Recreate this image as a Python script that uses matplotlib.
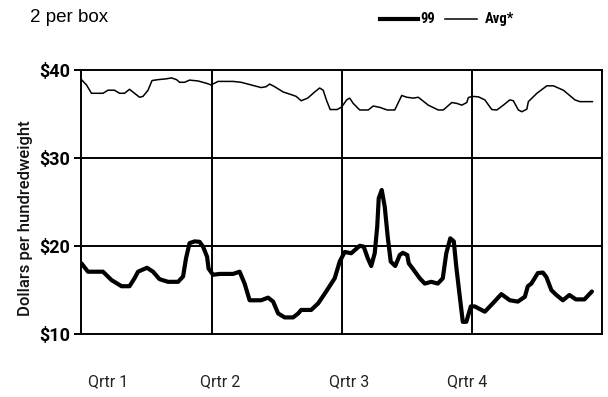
import matplotlib
matplotlib.use("Agg")
import matplotlib.pyplot as plt
from matplotlib.lines import Line2D
from matplotlib import font_manager as fm

# weekly position (0-52) and price
avg_weeks = [0.0, 0.5, 1.0, 2.15, 2.65, 3.3, 3.8, 4.3, 4.8, 5.3, 5.8, 6.15, 6.65, 7.05,
             7.65, 8.5, 9.0, 9.5, 9.8, 10.3, 10.8, 11.65, 12.45, 12.95, 13.65, 15.15,
             15.95, 17.95, 18.45, 18.8, 19.3, 20.15, 20.95, 21.45, 21.95, 22.6, 23.3,
             23.8, 24.15, 24.5, 24.85, 25.55, 26.0, 26.5, 26.8, 27.15, 27.8, 28.65,
             29.15, 29.8, 30.55, 31.3, 32.0, 32.5, 33.15, 33.65, 34.65, 35.65, 36.15,
             37.0, 37.5, 38.0, 38.5, 38.65, 39.0, 39.65, 40.3, 41.0, 41.5, 42.15, 42.8,
             43.15, 43.65, 44.0, 44.5, 44.65, 45.5, 46.5, 47.15, 48.15, 49.3, 49.8, 51.05]
avg_price = [38.9, 38.3, 37.35, 37.35, 37.7, 37.7, 37.35, 37.35, 37.8, 37.35, 36.9, 37.0,
             37.7, 38.8, 38.9, 39.0, 39.1, 38.9, 38.6, 38.6, 38.85, 38.75, 38.5, 38.3,
             38.7, 38.7, 38.6, 38.0, 38.1, 38.4, 38.1, 37.5, 37.2, 37.0, 36.5, 36.8, 37.5,
             37.95, 37.7, 36.5, 35.5, 35.5, 35.8, 36.6, 36.8, 36.2, 35.45, 35.45, 35.9,
             35.75, 35.45, 35.45, 37.1, 36.9, 36.8, 36.9, 36.0, 35.45, 35.45, 36.3, 36.2,
             36.0, 36.3, 36.85, 37.0, 36.95, 36.6, 35.5, 35.45, 36.0, 36.6, 36.5, 35.45,
             35.25, 35.55, 36.4, 37.35, 38.2, 38.2, 37.7, 36.6, 36.4, 36.4]

y99_weeks = [0.0, 0.65, 2.15, 3.0, 4.0, 4.8, 5.3, 5.65, 6.55, 7.15, 7.8, 8.65, 9.65, 10.15,
             10.45, 10.8, 11.3, 11.8, 12.15, 12.55, 12.7, 13.15, 13.8, 15.15, 15.8, 16.3,
             16.8, 17.95, 18.65, 19.15, 19.65, 20.3, 21.15, 21.65, 21.95, 22.95, 23.65,
             24.45, 25.3, 25.8, 26.3, 26.95, 27.8, 28.2, 28.6, 28.95, 29.3, 29.55, 29.7,
             30.0, 30.3, 30.6, 30.9, 31.35, 31.8, 32.1, 32.55, 32.7, 33.1, 33.8, 34.3,
             34.95, 35.6, 36.1, 36.45, 36.85, 37.2, 37.45, 37.8, 38.1, 38.45, 38.9, 39.3,
             40.3, 41.1, 41.95, 42.8, 43.6, 44.3, 44.6, 44.95, 45.6, 46.1, 46.45, 46.95,
             47.45, 48.1, 48.75, 49.4, 50.25, 51.0]
y99_price = [18.0, 17.05, 17.05, 16.1, 15.4, 15.4, 16.3, 17.05, 17.5, 17.05, 16.2, 15.9,
             15.9, 16.5, 18.6, 20.3, 20.5, 20.45, 19.9, 18.75, 17.4, 16.7, 16.8, 16.8,
             17.05, 15.7, 13.8, 13.8, 14.1, 13.65, 12.3, 11.85, 11.85, 12.3, 12.7, 12.7,
             13.45, 14.8, 16.3, 18.2, 19.3, 19.15, 20.0, 19.9, 18.6, 17.7, 19.15, 22.2,
             25.4, 26.35, 24.45, 21.0, 18.2, 17.7, 18.95, 19.2, 18.95, 18.0, 17.4, 16.3,
             15.7, 15.9, 15.7, 16.3, 19.15, 20.85, 20.5, 17.6, 14.2, 11.35, 11.35, 13.1,
             13.1, 12.5, 13.45, 14.5, 13.8, 13.65, 14.2, 15.4, 15.7, 16.9, 16.95, 16.45,
             14.95, 14.4, 13.8, 14.4, 13.9, 13.9, 14.8]

quarter_edges = [13, 26, 39]
y_ticks = [10, 20, 30, 40]
y_labels = ["$10", "$20", "$30", "$40"]
qtr_pos = [2.65, 13.85, 26.7, 38.5]
qtr_labels = ["Qrtr 1", "Qrtr 2", "Qrtr 3", "Qrtr 4"]


def pick(cands):
    available = {f.name for f in fm.fontManager.ttflist}
    for c in cands:
        if c in available:
            return [c, "DejaVu Sans"]
    return ["DejaVu Sans"]


narrow = pick(["Roboto Condensed", "Liberation Sans Narrow", "Archivo Narrow"])
plain = pick(["Roboto", "Liberation Sans"])

fig = plt.figure(figsize=(6.08, 3.97), dpi=100)
ax = fig.add_axes([0.134, 0.1595, 0.856, 0.6642])

ax.plot(avg_weeks, avg_price, color="black", lw=1.1, solid_joinstyle="round")
ax.plot(y99_weeks, y99_price, color="black", lw=3.0, solid_joinstyle="round",
        solid_capstyle="round")

ax.set_xlim(0, 52)
ax.set_ylim(10, 40)
for q in quarter_edges:
    ax.axvline(q, color="black", lw=1.4)
for v in (20, 30):
    ax.axhline(v, color="black", lw=1.4)
for s in ax.spines.values():
    s.set_linewidth(1.4)

ax.set_yticks(y_ticks)
ax.set_yticklabels(y_labels, fontfamily=plain, fontweight="bold", fontsize=13)
ax.tick_params(axis="y", length=5, width=1.4, pad=3)
ax.set_xticks(qtr_pos)
ax.set_xticklabels(qtr_labels, fontfamily=plain, fontsize=11.5, color="#222222")
ax.tick_params(axis="x", length=0, pad=29)

ax.set_ylabel("Dollars per hundredweight", fontfamily=plain, fontweight="medium",
              fontsize=12, color="#111111")
ax.yaxis.set_label_coords(-0.093, 0.439)

fig.text(30 / 608, 1 - 17 / 397, "2 per box", fontfamily=["Liberation Sans", "DejaVu Sans"],
         fontsize=13.5, va="center", ha="left")

# legend drawn by hand, like the original
ly = 1 - 19 / 397
fig.add_artist(Line2D([380 / 608, 418 / 608], [ly, ly], color="black", lw=3.0,
                      transform=fig.transFigure))
fig.text(420 / 608, ly, "99", fontfamily=narrow, fontweight="bold", fontsize=10.5,
         va="center", ha="left")
fig.add_artist(Line2D([445 / 608, 477 / 608], [ly, ly], color="black", lw=1.1,
                      transform=fig.transFigure))
fig.text(485 / 608, ly, "Avg*", fontfamily=narrow, fontweight="bold", fontsize=10.5,
         va="center", ha="left")

fig.savefig("out.png", dpi=100)
